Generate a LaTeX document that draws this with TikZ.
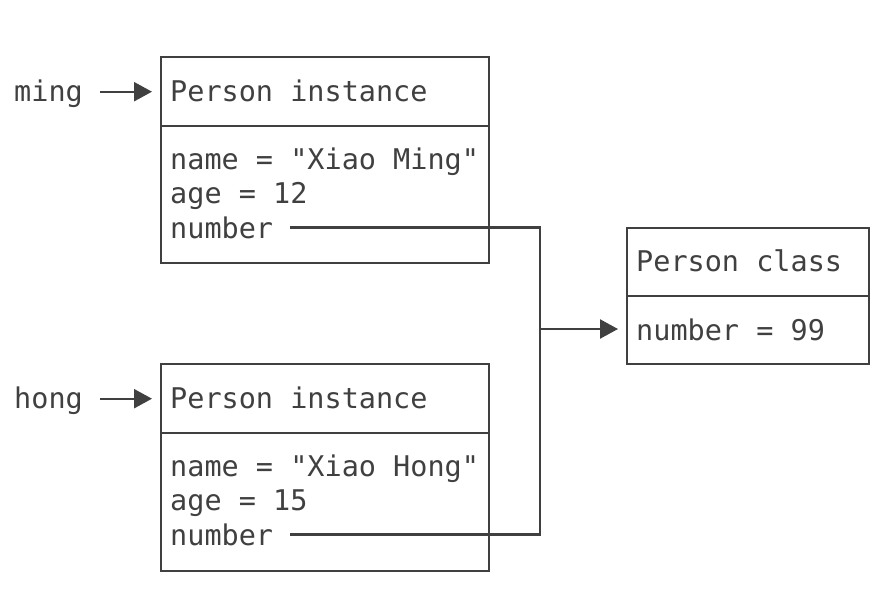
\documentclass[tikz,border=0pt]{standalone}
\usepackage{fontspec}
\setmonofont{DejaVu Sans Mono}
\usetikzlibrary{arrows.meta}
\definecolor{ink}{HTML}{404040}
\tikzset{
  box/.style={draw=ink, line width=2.4pt, rectangle, inner sep=0pt, anchor=north west},
  lbl/.style={anchor=base west, inner sep=0pt, text=ink, font=\ttfamily\fontsize{28.5}{34}\selectfont},
  conn/.style={draw=ink, line width=2.3pt},
  arr/.style={draw=ink, line width=2.3pt, -{Triangle[length=18pt,width=19pt]}, shorten >=8pt}
}
\begin{document}
\begin{tikzpicture}[x=1pt,y=-1pt]
\useasboundingbox (0,0) rectangle (893,606);
% instance 1
\node[box, minimum width=328pt, minimum height=69pt] (head1) at (160,56) {};
\node[box, minimum width=328pt, minimum height=137pt] (body1) at (160,125) {};
\node[lbl] (t1) at (170,101.7) {Person instance};
\node[lbl] (name1) at (170,169) {name = "Xiao Ming"};
\node[lbl] (age1) at (170,203.5) {age = 12};
\node[lbl] (num1) at (170,238) {number};
% instance 2
\node[box, minimum width=328pt, minimum height=69pt] (head2) at (160,363) {};
\node[box, minimum width=328pt, minimum height=138pt] (body2) at (160,432) {};
\node[lbl] (t2) at (170,408.5) {Person instance};
\node[lbl] (name2) at (170,476) {name = "Xiao Hong"};
\node[lbl] (age2) at (170,510.5) {age = 15};
\node[lbl] (num2) at (170,545) {number};
% class
\node[box, minimum width=242pt, minimum height=68pt] (chead) at (626,227) {};
\node[box, minimum width=242pt, minimum height=68pt] (cbody) at (626,295) {};
\node[lbl] (ct) at (636,271.7) {Person class};
\node[lbl] (cn) at (636,340) {number = 99};
% variables
\node[lbl] (ming) at (14,101.7) {ming};
\node[lbl] (hong) at (14,408.5) {hong};
\draw[arr, shorten <=17pt] (ming.east |- head1.west) -- (head1.west);
\draw[arr, shorten <=17pt] (hong.east |- head2.west) -- (head2.west);
% connectors
\coordinate (j) at (540,329);
\draw[conn] ([xshift=17pt]num1.east) -| (j);
\draw[conn] ([xshift=17pt]num2.east) -| (j);
\draw[arr] (j) -- (j -| cbody.west);
\end{tikzpicture}
\end{document}
